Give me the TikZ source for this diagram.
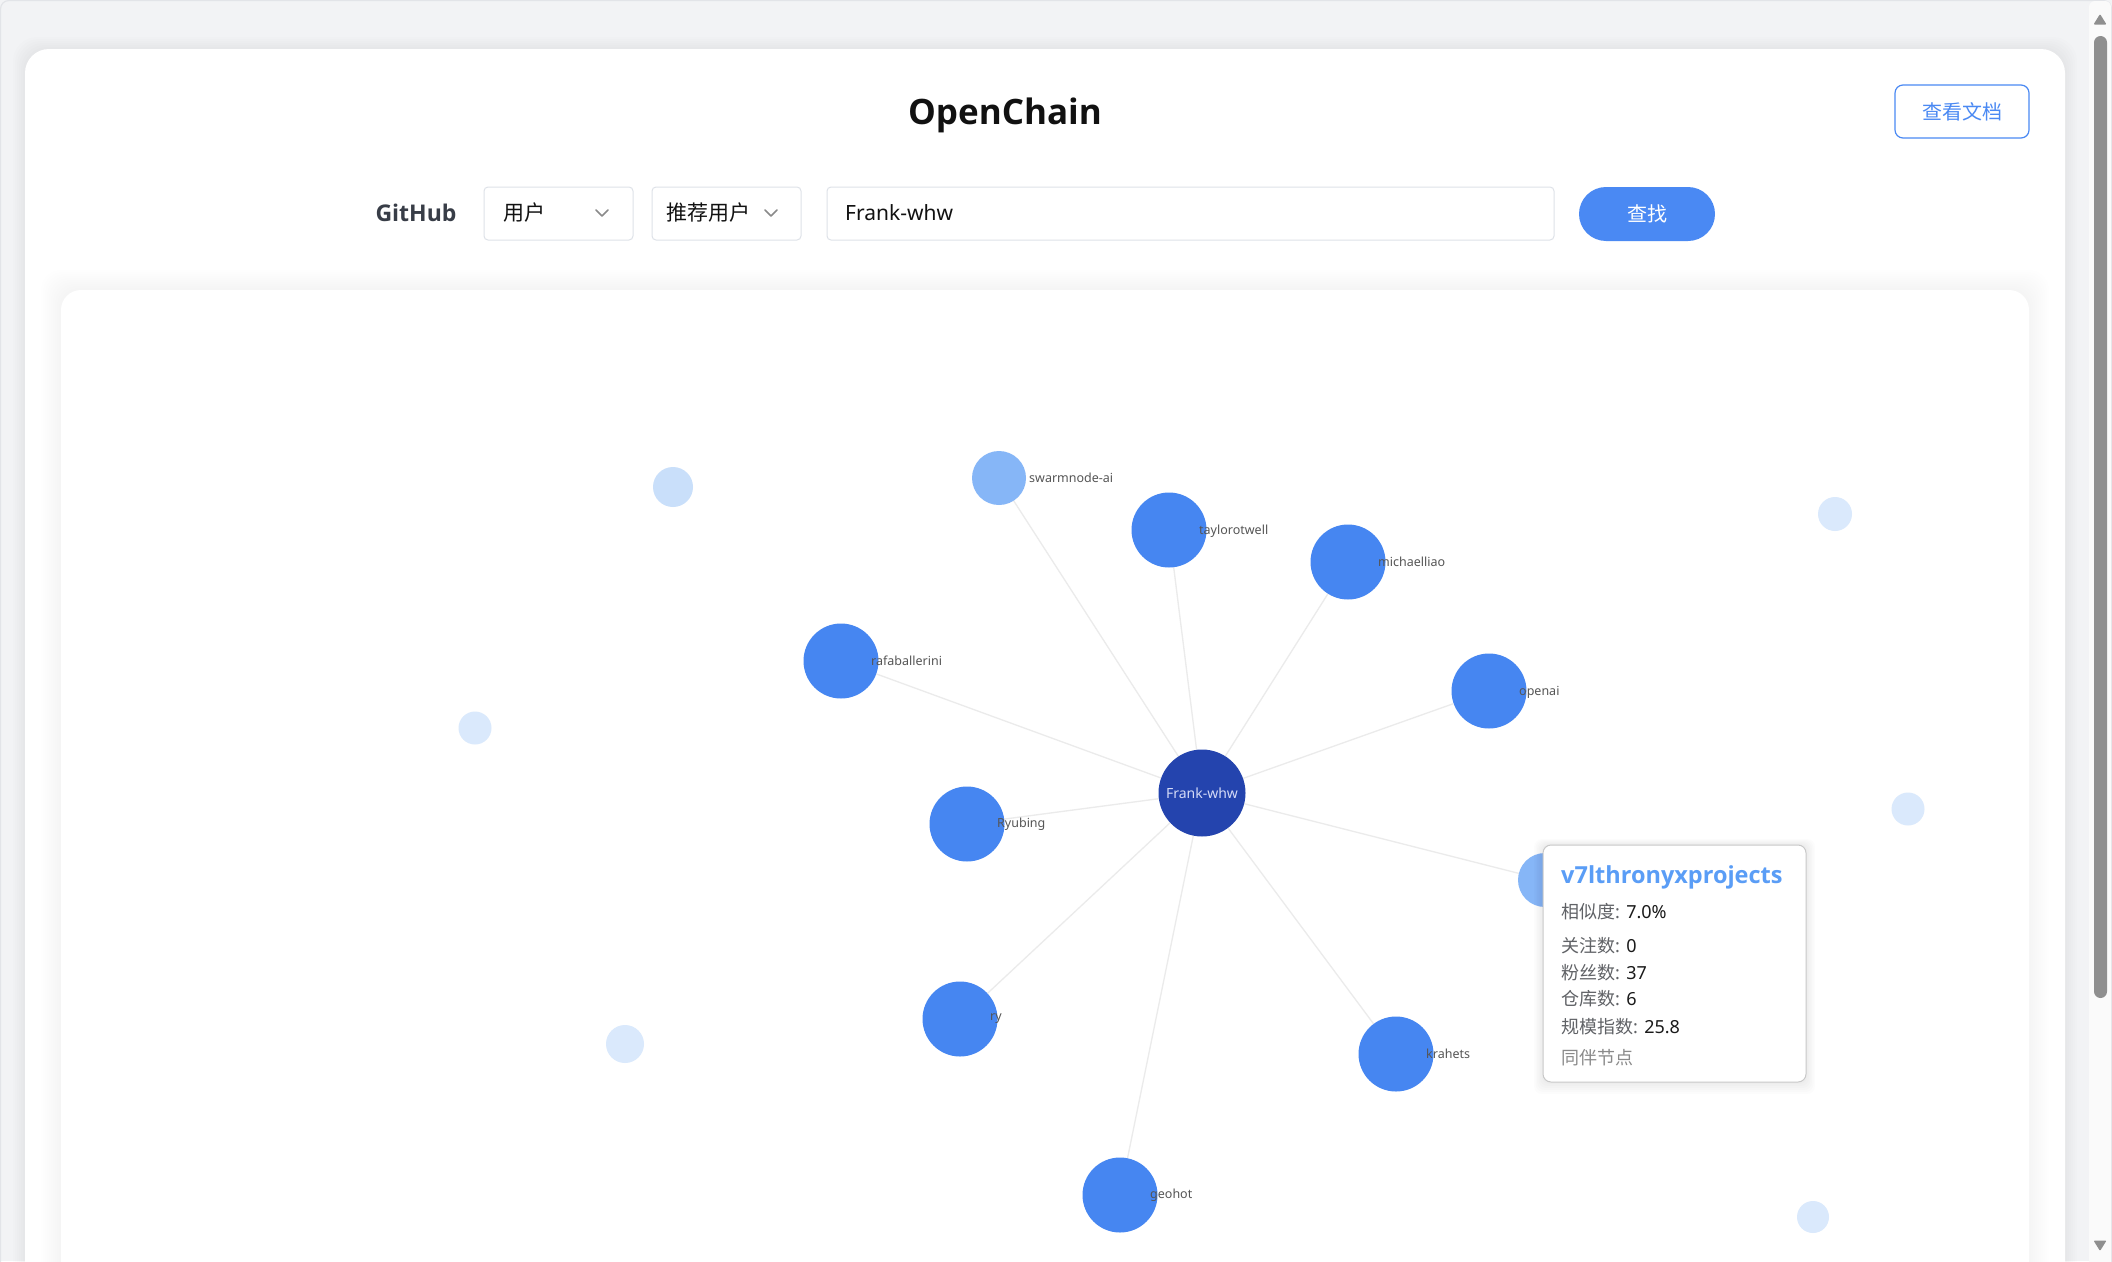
\documentclass[tikz,border=0pt]{standalone}
\usepackage{fontspec}
\setmainfont{Noto Sans}
\newfontfamily\cjk{Noto Sans CJK SC}
\newfontfamily\boldfam{Open Sans}[BoldFont={Open Sans Bold}]
\pgfdeclarelayer{bg}
\pgfdeclarelayer{edges}
\pgfsetlayers{bg,edges,main}
\definecolor{pagebg}{HTML}{F2F3F5}
\definecolor{pageline}{HTML}{E2E4E8}
\definecolor{titlec}{HTML}{111111}
\definecolor{ghc}{HTML}{383D47}
\definecolor{btnblue}{HTML}{4A89F3}
\definecolor{boxline}{HTML}{DEE2E8}
\definecolor{chevc}{HTML}{8A8A8A}
\definecolor{darknode}{HTML}{2444AE}
\definecolor{usernode}{HTML}{4686F1}
\definecolor{lightnode}{HTML}{86B6F7}
\definecolor{palenodeA}{HTML}{C9DFFA}
\definecolor{palenodeB}{HTML}{DAE9FC}
\definecolor{edgec}{HTML}{EBEBEB}
\definecolor{lblc}{HTML}{555555}
\definecolor{centerlbl}{HTML}{D5DBF7}
\definecolor{tiptitle}{HTML}{5A9DF6}
\definecolor{tipkey}{HTML}{606266}
\definecolor{tipval}{HTML}{1A1A1A}
\definecolor{tipline}{HTML}{C8C8C8}
\definecolor{thumbc}{HTML}{8F8F8F}
\definecolor{trackc}{HTML}{FAFAFA}
\begin{document}
\begin{tikzpicture}[x=1pt,y=-1pt,
  usr/.style={circle,inner sep=0pt,fill=usernode,minimum size=75pt},
  lusr/.style={circle,inner sep=0pt,fill=lightnode,minimum size=54pt},
  pale/.style={circle,inner sep=0pt,minimum size=#1},
  center/.style={circle,inner sep=0pt,fill=darknode,minimum size=87pt,text=centerlbl,font=\fontsize{14}{16}\selectfont},
  lbl/.style={anchor=west,inner sep=0pt,text=lblc,font=\fontsize{12.5}{14}\selectfont},
  link/.style={draw=edgec,line width=1.3pt},
  selbox/.style={draw=boxline,line width=1pt,fill=white,rounded corners=4pt,minimum height=53pt,inner sep=0pt},
  seltext/.style={anchor=west,inner sep=0pt,text=titlec,font=\cjk\fontsize{21}{24}\selectfont},
  chev/.style={draw=chevc,line width=1.5pt,line cap=round,line join=round},
  tipkeystyle/.style={anchor=west,inner sep=0pt,font=\fontsize{18}{22}\selectfont,text=tipkey},
]
\useasboundingbox (0,0) rectangle (2112,1261);
\begin{pgfonlayer}{bg}
  % page
  \fill[pagebg] (0,0) rectangle (2112,1261);
  \draw[pageline,line width=1.2pt,rounded corners=8pt] (0.6,1300) -- (0.6,0.6) -- (2111.4,0.6) -- (2111.4,1300);
  % card shadow
  \foreach \i in {1,...,6}{
    \fill[black,opacity=0.006,rounded corners=24pt] (25-2*\i,49-2*\i) rectangle (2065+2*\i,1300);
  }
  \fill[white,rounded corners=24pt] (25,49) rectangle (2065,1300);
  % graph panel shadow
  \foreach \i in {1,...,10}{
    \fill[black,opacity=0.0045,rounded corners=20pt] (61-2*\i,290-2*\i) rectangle (2029+2*\i,1300);
  }
  \fill[white,rounded corners=20pt] (61,290) rectangle (2029,1300);
  % scrollbar
  \fill[trackc,rounded corners=6pt] (2089,1) rectangle (2111,1300);
  \fill[thumbc,rounded corners=6.5pt] (2094,36) rectangle (2107,998);
  \fill[thumbc,rounded corners=1pt] (2093.5,24.5) -- (2106.5,24.5) -- (2100,14) -- cycle;
  \fill[thumbc,rounded corners=1pt] (2093.5,1240.5) -- (2106.5,1240.5) -- (2100,1251) -- cycle;
\end{pgfonlayer}

% header
\node[text=titlec,font=\boldfam\bfseries\fontsize{35}{40}\selectfont,inner sep=0pt,anchor=base] (title) at (1005,124) {OpenChain};
\node[draw=btnblue,line width=1.2pt,rounded corners=8pt,minimum width=134pt,minimum height=53pt,inner sep=0pt,
      text=btnblue,font=\cjk\fontsize{20}{24}\selectfont] (docbtn) at (1962,111.5) {查看文档};

% search row
\node[text=ghc,font=\boldfam\bfseries\fontsize{23}{28}\selectfont,inner sep=0pt,anchor=base] (gh) at (416,221) {GitHub};
\node[selbox,minimum width=149pt] (sel1) at (558.5,213.5) {};
\node[seltext] (sel1t) at (503,213) {用户};
\draw[chev] (596,210) -- (602,216) -- (608,210);
\node[selbox,minimum width=149pt] (sel2) at (726.5,213.5) {};
\node[seltext] (sel2t) at (666,213) {推荐用户};
\draw[chev] (765,210) -- (771,216) -- (777,210);
\node[selbox,minimum width=727pt] (query) at (1190.5,213.5) {};
\node[anchor=west,inner sep=0pt,text=titlec,font=\fontsize{21}{24}\selectfont] (queryt) at (845,213) {Frank-whw};
\node[fill=btnblue,rounded corners=27pt,minimum width=136pt,minimum height=54pt,inner sep=0pt,
      text=white,font=\cjk\fontsize{20}{24}\selectfont] (findbtn) at (1647,214) {查找};

% pale (unconnected) nodes
\node[pale=40pt,fill=palenodeA] (p1) at (673,487) {};
\node[pale=33pt,fill=palenodeB] (p2) at (475,728) {};
\node[pale=38pt,fill=palenodeB] (p3) at (625,1044) {};
\node[pale=34pt,fill=palenodeB] (p4) at (1835,514) {};
\node[pale=33pt,fill=palenodeB] (p5) at (1908,809) {};
\node[pale=32pt,fill=palenodeB] (p6) at (1813,1217) {};

% graph nodes
\node[center] (frank) at (1202,793) {Frank-whw};
\node[lusr] (swarm) at (999,478) {};
\node[usr] (taylor) at (1169,530) {};
\node[usr] (michael) at (1348,562) {};
\node[usr] (rafa) at (841,661) {};
\node[usr] (openai) at (1489,691) {};
\node[usr] (ryubing) at (967,824) {};
\node[lusr] (v7l) at (1545,880) {};
\node[usr] (ry) at (960,1019) {};
\node[usr] (krahets) at (1396,1054) {};
\node[usr] (geohot) at (1120,1195) {};

% labels
\node[lbl] (swarmL) at (1029,478) {swarmnode-ai};
\node[lbl] (taylorL) at (1199,531) {taylorotwell};
\node[lbl] (michaelL) at (1378,562) {michaelliao};
\node[lbl] (rafaL) at (871,661) {rafaballerini};
\node[lbl] (openaiL) at (1519,692) {openai};
\node[lbl] (ryubingL) at (997,824) {Ryubing};
\node[lbl] (ryL) at (990,1019) {ry};
\node[lbl] (krahetsL) at (1426,1054) {krahets};
\node[lbl] (geohotL) at (1150,1195) {geohot};

% edges
\begin{pgfonlayer}{edges}
  \foreach \t in {swarm,taylor,michael,rafa,openai,ryubing,v7l,ry,krahets,geohot}{
    \draw[link] (frank) -- (\t);
  }
\end{pgfonlayer}

% tooltip
\foreach \i in {1,...,6}{
  \fill[black,opacity=0.01,rounded corners=8pt] (1543-1.5*\i,845-1*\i) rectangle (1806+1.5*\i,1082+2*\i);
}
\node[draw=tipline,line width=1pt,fill=white,rounded corners=8pt,minimum width=263pt,minimum height=237pt,inner sep=0pt] (tip) at (1674.5,963.5) {};
\node[anchor=west,inner sep=0pt,text=tiptitle,font=\boldfam\bfseries\fontsize{23.5}{28}\selectfont] (tipT) at (1561,877) {v7lthronyxprojects};
\node[tipkeystyle] (k1) at (1561,912) {{\cjk 相似度}: \textcolor{tipval}{7.0\%}};
\node[tipkeystyle] (k2) at (1561,946) {{\cjk 关注数}: \textcolor{tipval}{0}};
\node[tipkeystyle] (k3) at (1561,973) {{\cjk 粉丝数}: \textcolor{tipval}{37}};
\node[tipkeystyle] (k4) at (1561,999) {{\cjk 仓库数}: \textcolor{tipval}{6}};
\node[tipkeystyle] (k5) at (1561,1027) {{\cjk 规模指数}: \textcolor{tipval}{25.8}};
\node[tipkeystyle,text=chevc] (k6) at (1561,1058) {\cjk 同伴节点};
\end{tikzpicture}
\end{document}
